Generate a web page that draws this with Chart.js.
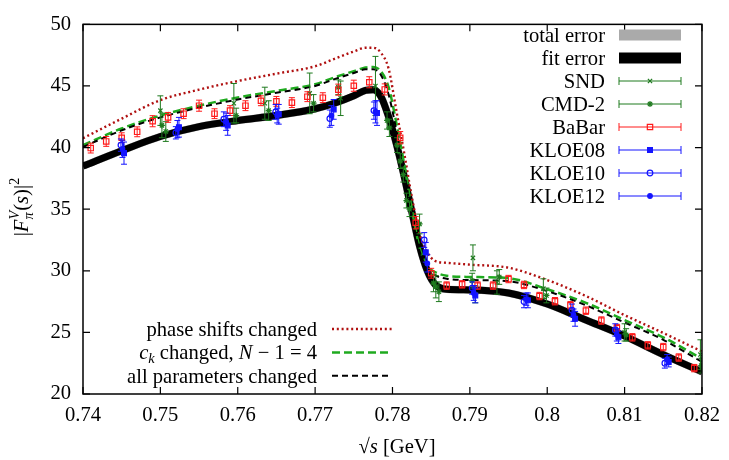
<!DOCTYPE html>
<html>
<head>
<meta charset="utf-8">
<script src="https://cdn.jsdelivr.net/npm/chart.js@4.4.1/dist/chart.umd.min.js"></script>
<style>
  html, body { margin: 0; padding: 0; background: #fff; }
</style>
</head>
<body>
<canvas id="formFactorChart" width="729" height="460"></canvas>
<script>
//--------------------------------------------------------
// values
const curveX = [0.74, 0.745, 0.75, 0.755, 0.76, 0.765, 0.77, 0.7725, 0.775, 0.7765, 0.7775,
  0.7785, 0.7795, 0.7805, 0.7815, 0.7825, 0.7835, 0.7845, 0.7855, 0.787, 0.79, 0.795,
  0.80, 0.805, 0.81, 0.815, 0.82];
const fitY = [38.5, 39.75, 40.9, 41.7, 42.2, 42.6, 43.15, 43.6, 44.2, 44.65, 44.7,
  44.15, 42.5, 40.3, 37.7, 34.8, 32.0, 30.0, 28.9, 28.5, 28.45, 28.2,
  27.3, 26.0, 24.7, 23.2, 21.8];
const phaseY = [40.76, 42.35, 43.85, 44.7, 45.4, 46.0, 46.6, 47.2, 47.8, 48.1, 48.1,
  47.7, 46.4, 43.0, 39.6, 36.0, 33.0, 31.5, 30.8, 30.65, 30.5, 30.25,
  29.25, 27.95, 26.4, 24.95, 23.45];
const ckY = [40.2, 41.55, 42.6, 43.4, 44.07, 44.6, 45.14, 45.7, 46.2, 46.5, 46.55,
  46.2, 44.9, 42.0, 38.7, 35.0, 31.9, 30.4, 29.9, 29.6, 29.5, 29.4,
  28.5, 27.4, 26.0, 24.6, 22.85];
const allParY = [40.05, 41.4, 42.45, 43.25, 43.9, 44.45, 45.0, 45.55, 46.05, 46.35, 46.35,
  45.9, 44.3, 41.4, 38.1, 34.5, 31.6, 30.2, 29.65, 29.35, 29.25, 29.15,
  28.35, 27.2, 25.8, 24.4, 22.6];

const sndX = [0.7500, 0.7595, 0.7635, 0.7693, 0.7733, 0.7778, 0.7904, 0.7935, 0.7995, 0.8100, 0.8198];
const sndY = [43.0, 43.6, 43.6, 44.4, 44.0, 45.0, 31.05, 29.05, 28.55, 25.0, 23.2];
const sndErr = [1.2, 1.6, 1.3, 1.65, 1.4, 2.4, 1.05, 0.95, 0.8, 0.7, 1.2];

const cmdX = [0.7502, 0.7507, 0.7598, 0.7640, 0.7698, 0.7730, 0.7793, 0.7796, 0.7806, 0.7810,
  0.7814, 0.7818, 0.7822, 0.7835, 0.7853, 0.7856, 0.7860, 0.7903, 0.7907, 0.7938,
  0.7999, 0.8102, 0.8199];
const cmdY = [41.8, 41.3, 42.6, 43.0, 43.6, 44.9, 42.2, 41.6, 40.2, 38.9,
  37.8, 35.7, 35.0, 33.8, 29.0, 28.7, 28.3, 29.2, 28.1, 29.5,
  28.0, 24.8, 22.3];
const cmdErr = [1.0, 0.8, 0.6, 0.8, 0.7, 0.6, 0.7, 0.7, 0.6, 0.6,
  0.6, 0.6, 0.6, 0.8, 0.7, 0.9, 0.8, 0.6, 0.7, 0.6,
  0.6, 0.5, 0.6];

const babarX = [0.741, 0.743, 0.745, 0.747, 0.749, 0.751, 0.753, 0.755, 0.757, 0.759,
  0.761, 0.763, 0.765, 0.767, 0.769, 0.771, 0.773, 0.775, 0.777, 0.779,
  0.781, 0.783, 0.785, 0.787, 0.789, 0.791, 0.793, 0.795, 0.797, 0.799,
  0.801, 0.803, 0.805, 0.807, 0.809, 0.811, 0.813, 0.815, 0.817, 0.819];
const babarY = [39.96, 40.5, 40.8, 41.28, 42.14, 42.45, 42.75, 43.4, 42.75, 43.0,
  43.4, 43.8, 43.75, 43.65, 44.13, 44.05, 44.7, 45.02, 45.3, 44.72,
  40.8, 33.9, 29.8, 28.8, 28.9, 28.8, 28.8, 29.33, 28.85, 27.95,
  27.53, 27.2, 26.76, 25.96, 25.35, 24.6, 23.95, 23.81, 22.96, 22.1];
const babarErr = [0.4, 0.4, 0.4, 0.4, 0.45, 0.4, 0.4, 0.45, 0.4, 0.4,
  0.4, 0.4, 0.4, 0.4, 0.4, 0.4, 0.45, 0.45, 0.45, 0.45,
  0.5, 0.5, 0.4, 0.3, 0.3, 0.3, 0.3, 0.3, 0.3, 0.3,
  0.3, 0.3, 0.3, 0.3, 0.3, 0.3, 0.3, 0.3, 0.3, 0.3];

const kloe08X = [0.7453, 0.7524, 0.7587, 0.7653, 0.7724, 0.7780, 0.7843, 0.7907, 0.7975, 0.8036, 0.8092, 0.8157];
const kloe08Y = [39.55, 41.65, 41.8, 42.7, 43.1, 42.8, 31.5, 28.0, 27.6, 26.1, 24.6, 22.6];
const kloe08Err = [0.9, 0.8, 0.8, 0.8, 0.8, 1.0, 0.8, 0.6, 0.6, 0.6, 0.5, 0.4];

const kloe10X = [0.7449, 0.7520, 0.7582, 0.7649, 0.7719, 0.7776, 0.7841, 0.7903, 0.7970, 0.8032, 0.8088, 0.8152];
const kloe10Y = [40.2, 41.2, 42.3, 42.9, 42.35, 43.0, 32.5, 28.6, 27.5, 26.8, 25.2, 22.5];
const kloe10Err = [0.5, 0.5, 0.6, 0.6, 0.7, 0.7, 0.6, 0.5, 0.5, 0.5, 0.5, 0.4];

const kloe12X = [0.7451, 0.7522, 0.7585, 0.7651, 0.7721, 0.7778, 0.7845, 0.7905, 0.7973, 0.8034, 0.8090, 0.8155];
const kloe12Y = [39.9, 41.5, 42.1, 42.6, 42.6, 42.9, 30.6, 28.2, 27.7, 26.4, 24.8, 22.8];
const kloe12Err = [0.7, 0.7, 0.7, 0.6, 0.8, 0.9, 0.7, 0.6, 0.5, 0.5, 0.5, 0.4];

//--------------------------------------------------------
// pick a Times-like serif that is really installed, and size it so the
// key text keeps the reference width
function pickSerif() {
  const c = document.createElement("canvas").getContext("2d");
  const sample = "all parameters changed 0.74";
  const cands = ["Liberation Serif", "Tinos", "Times New Roman", "Times", "Nimbus Roman",
    "Nimbus Roman No9 L", "FreeSerif", "DejaVu Serif", "Noto Serif"];
  c.font = "40px monospace";
  const mono = c.measureText(sample).width;
  c.font = "40px sans-serif";
  const sans = c.measureText(sample).width;
  for (const f of cands) {
    c.font = '40px "' + f + '", monospace';
    const w1 = c.measureText(sample).width;
    c.font = '40px "' + f + '", sans-serif';
    const w2 = c.measureText(sample).width;
    if (Math.abs(w1 - w2) < 0.01 && Math.abs(w1 - mono) > 0.5 && Math.abs(w2 - sans) > 0.5) return '"' + f + '", serif';
  }
  return "serif";
}
const SERIF = pickSerif();
const FS = (function () {
  const c = document.createElement("canvas").getContext("2d");
  c.font = "20.5px " + SERIF;
  const w = c.measureText("all parameters changed").width;
  return Math.min(21, 20.5 * 190 / w);
})();

const GREEN_PTS = "#1f7a1f";
const RED_PTS = "#ff1a1a";
const BLUE_PTS = "#1414ff";

const toXY = (xs, ys) => xs.map((x, i) => ({ x: x, y: ys[i] }));

// rich text: parts = [{t, it, s, dy, stack}]
function setFont(ctx, p) {
  ctx.font = (p.it ? "italic " : "") + FS * (p.s || 1) + "px " + SERIF;
}
function richWidth(ctx, parts) {
  let w = 0, held = 0;
  parts.forEach((p) => {
    setFont(ctx, p);
    const pw = ctx.measureText(p.t).width;
    if (p.stack) held = pw;
    else { w += Math.max(pw, held); held = 0; }
  });
  return w;
}
function drawRich(ctx, parts, x, y, align) {
  const w = richWidth(ctx, parts);
  let cx = align === "right" ? x - w : align === "center" ? x - w / 2 : x;
  let held = 0;
  ctx.textAlign = "left";
  ctx.textBaseline = "alphabetic";
  parts.forEach((p) => {
    setFont(ctx, p);
    const pw = ctx.measureText(p.t).width;
    ctx.fillText(p.t, cx, y + (p.dy || 0));
    if (p.stack) held = pw;
    else { cx += Math.max(pw, held); held = 0; }
  });
}

//--------------------------------------------------------
// error bars drawn under each dataset's markers
const errorBars = {
  id: "errorBars",
  beforeDatasetDraw(chart, args) {
    const ds = chart.data.datasets[args.index];
    if (!ds.errors) return;
    const ctx = chart.ctx, sy = chart.scales.y, a = chart.chartArea;
    ctx.save();
    ctx.beginPath();
    ctx.rect(a.left, a.top, a.right - a.left, a.bottom - a.top);
    ctx.clip();
    ctx.strokeStyle = ds.borderColor;
    ctx.lineWidth = 1;
    args.meta.data.forEach((pt, i) => {
      const v = ds.data[i].y, e = ds.errors[i];
      const y0 = sy.getPixelForValue(v + e), y1 = sy.getPixelForValue(v - e);
      ctx.beginPath();
      ctx.moveTo(pt.x, y0); ctx.lineTo(pt.x, y1);
      ctx.moveTo(pt.x - 3, y0); ctx.lineTo(pt.x + 3, y0);
      ctx.moveTo(pt.x - 3, y1); ctx.lineTo(pt.x + 3, y1);
      ctx.stroke();
    });
    ctx.restore();
  },
};

// gnuplot-like border with inward ticks on all sides
const frame = {
  id: "frame",
  afterDatasetsDraw(chart) {
    const ctx = chart.ctx, a = chart.chartArea;
    const sx = chart.scales.x, sy = chart.scales.y;
    ctx.save();
    ctx.strokeStyle = "#000";
    ctx.lineWidth = 1.5;
    ctx.strokeRect(a.left, a.top, a.right - a.left, a.bottom - a.top);
    ctx.lineWidth = 1.2;
    ctx.beginPath();
    sx.ticks.forEach((t) => {
      const p = sx.getPixelForValue(t.value);
      ctx.moveTo(p, a.bottom); ctx.lineTo(p, a.bottom - 7);
      ctx.moveTo(p, a.top); ctx.lineTo(p, a.top + 7);
    });
    sy.ticks.forEach((t) => {
      const p = sy.getPixelForValue(t.value);
      ctx.moveTo(a.left, p); ctx.lineTo(a.left + 7, p);
      ctx.moveTo(a.right, p); ctx.lineTo(a.right - 7, p);
    });
    ctx.stroke();
    ctx.restore();
  },
};

function drawSample(ctx, ds, x0, x1, y) {
  ctx.save();
  if (ds.legendKind === "band") {
    ctx.fillStyle = ds.borderColor;
    ctx.fillRect(x0, y - 5.5, x1 - x0, 11);
  } else if (ds.legendKind === "line") {
    ctx.strokeStyle = ds.borderColor;
    ctx.lineWidth = ds.borderWidth;
    ctx.setLineDash(ds.borderDash || []);
    ctx.beginPath();
    ctx.moveTo(x0, y); ctx.lineTo(x1, y);
    ctx.stroke();
  } else {
    ctx.strokeStyle = ds.borderColor;
    ctx.lineWidth = 1;
    ctx.beginPath();
    ctx.moveTo(x0, y); ctx.lineTo(x1, y);
    ctx.moveTo(x0, y - 4); ctx.lineTo(x0, y + 4);
    ctx.moveTo(x1, y - 4); ctx.lineTo(x1, y + 4);
    ctx.stroke();
    ctx.fillStyle = ds.pointBackgroundColor;
    ctx.lineWidth = ds.pointBorderWidth;
    Chart.helpers.drawPoint(ctx, {
      pointStyle: ds.pointStyle, radius: ds.pointRadius, rotation: 0,
      borderWidth: ds.pointBorderWidth,
    }, (x0 + x1) / 2, y);
  }
  ctx.restore();
}

// keys and axis titles
const keysAndTitles = {
  id: "keysAndTitles",
  afterDraw(chart) {
    const ctx = chart.ctx;
    ctx.save();
    ctx.fillStyle = "#000";
    let top = 0, bottom = 0;
    chart.data.datasets.forEach((ds) => {
      const parts = ds.richLabel || [{ t: ds.label }];
      if (ds.legendBox === "top") {
        const y = 35 + top * 23;
        drawRich(ctx, parts, 605, y + 7, "right");
        drawSample(ctx, ds, 619, 681, y);
        top++;
      } else if (ds.legendBox === "bottom") {
        const y = 329 + bottom * 23.4;
        drawRich(ctx, parts, 317, y + 7, "right");
        drawSample(ctx, ds, 332, 392, y);
        bottom++;
      }
    });

    // x title
    drawRich(ctx, [{ t: "\u221A" }, { t: "s", it: true }, { t: " [GeV]" }], 397, 453, "center");

    // y title, rotated
    ctx.translate(28, 207);
    ctx.rotate(-Math.PI / 2);
    drawRich(ctx, [
      { t: "|" }, { t: "F", it: true },
      { t: "\u03C0", it: true, s: 0.7, dy: 5, stack: true },
      { t: "V", it: true, s: 0.7, dy: -9 },
      { t: "(" }, { t: "s", it: true }, { t: ")|" },
      { t: "2", s: 0.7, dy: -9 },
    ], 0, 0, "center");
    ctx.restore();
  },
};

//--------------------------------------------------------
function curve(label, ys, color, width, dash, order, box, rich) {
  return {
    type: "line", label: label, data: toXY(curveX, ys),
    borderColor: color, backgroundColor: color, borderWidth: width,
    borderDash: dash, pointRadius: 0, fill: false, order: order,
    cubicInterpolationMode: "monotone", legendBox: box,
    legendKind: box === "top" ? "band" : "line", richLabel: rich,
  };
}
function points(label, xs, ys, errs, color, style, radius, open, order) {
  return {
    type: "scatter", label: label, data: toXY(xs, ys), errors: errs,
    borderColor: color, backgroundColor: color,
    pointBackgroundColor: open ? "rgba(0,0,0,0)" : color,
    pointStyle: style, pointRadius: radius, pointBorderWidth: 1.2,
    order: order, legendBox: "top", legendKind: "points",
  };
}

const datasets = [
  curve("total error", fitY, "#aaaaaa", 7.5, [], 12, "top"),
  curve("fit error", fitY, "#000000", 7, [], 11, "top"),
  points("SND", sndX, sndY, sndErr, GREEN_PTS, "crossRot", 3, false, 5),
  points("CMD-2", cmdX, cmdY, cmdErr, GREEN_PTS, "star", 3, false, 4),
  points("BaBar", babarX, babarY, babarErr, RED_PTS, "rect", 3.8, true, 3),
  points("KLOE08", kloe08X, kloe08Y, kloe08Err, BLUE_PTS, "rect", 3.4, false, 2),
  points("KLOE10", kloe10X, kloe10Y, kloe10Err, BLUE_PTS, "circle", 2.8, true, 1),
  points("KLOE12", kloe12X, kloe12Y, kloe12Err, BLUE_PTS, "circle", 2.3, false, 0),
  curve("phase shifts changed", phaseY, "#b01010", 2.4, [2, 2.8], 10, "bottom"),
  curve("c_k changed, N - 1 = 4", ckY, "#1faa1f", 2.5, [8, 4], 9, "bottom", [
    { t: "c", it: true }, { t: "k", it: true, s: 0.7, dy: 4 },
    { t: " changed, " }, { t: "N", it: true }, { t: " \u2212 1 = 4" },
  ]),
  curve("all parameters changed", allParY, "#000000", 2, [6, 4], 8, "bottom"),
];

const tickFont = { family: SERIF, size: FS };

const chart = new Chart(document.getElementById("formFactorChart"), {
  type: "scatter",
  data: { datasets: datasets },
  options: {
    responsive: false,
    animation: false,
    layout: { padding: { top: 17, right: 21, left: 0, bottom: 0 } },
    plugins: { legend: { display: false }, tooltip: { enabled: false } },
    scales: {
      x: {
        type: "linear", min: 0.74, max: 0.82,
        afterFit: (s) => { s.height = 66; },
        ticks: {
          stepSize: 0.01, padding: 9, color: "#000", font: tickFont,
          maxRotation: 0, autoSkip: false,
          callback: (v) => String(+v.toFixed(2)),
        },
        grid: { display: false, drawTicks: false },
        border: { display: false },
      },
      y: {
        type: "linear", min: 20, max: 50,
        afterFit: (s) => { s.width = 83; },
        ticks: {
          stepSize: 5, padding: 12, color: "#000", font: tickFont,
          callback: (v) => String(v),
        },
        grid: { display: false, drawTicks: false },
        border: { display: false },
      },
    },
  },
  plugins: [errorBars, frame, keysAndTitles],
});
</script>
</body>
</html>
